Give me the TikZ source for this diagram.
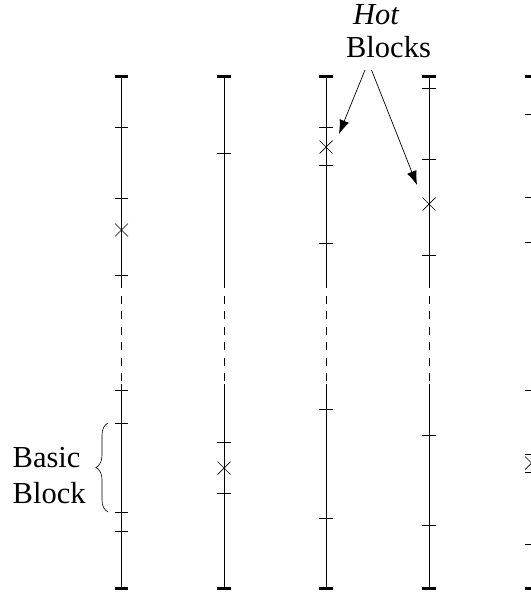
\documentclass[tikz,border=0pt]{standalone}
\usepackage{fontspec}
\setmainfont{Liberation Serif}
\usetikzlibrary{arrows.meta,decorations.pathreplacing}
\newcommand\mycolumn[3]{%
  \draw[bar] (#1,76) -- (#1,288);
  \draw[gapline] (#1,288) -- (#1,384);
  \draw[bar] (#1,384) -- (#1,589);
  \draw[capmark] (#1-6.75,76.5) -- (#1+6.75,76.5);
  \draw[capmark] (#1-6.75,588.5) -- (#1+6.75,588.5);
  \foreach \t in {#2} {\draw[tickmark] (#1-6.75,\t) -- (#1+6.75,\t);}
  \foreach \s in {#3} {\draw[xmark] (#1-6.5,\s-6.5) -- (#1+6.5,\s+6.5) (#1-6.5,\s+6.5) -- (#1+6.5,\s-6.5);}
}
\begin{document}
\begin{tikzpicture}[x=1pt,y=-1pt,
  bar/.style={line width=0.9pt},
  tickmark/.style={line width=0.8pt},
  capmark/.style={line width=2.4pt},
  xmark/.style={line width=0.7pt},
  gapline/.style={line width=0.9pt, dash pattern=on 8pt off 7.5pt, dash phase=8pt},
  lbl/.style={inner sep=0pt, font=\fontsize{30.5}{34}\selectfont},
  hotarrow/.style={line width=0.7pt, -{Latex[length=14pt,width=10pt]}},
  bracestyle/.style={line width=0.6pt, decorate, decoration={brace, amplitude=12pt}}]
\useasboundingbox (0,0) rectangle (530,594);
\mycolumn{121.5}{127,198,275,390,423,512,531}{230}
\mycolumn{224}{153,442,493}{468}
\mycolumn{326}{127,165,243,409,518}{147}
\mycolumn{429}{88,159,255,435,525}{204}
\mycolumn{531.5}{114,197,242,390,454,472,544}{463}
% labels
\node[lbl, anchor=base] (hot) at (376,25) {\itshape Hot};
\node[lbl, anchor=base] (blocks) at (388.5,57) {Blocks};
\node[lbl, anchor=base west] (basic) at (12.5,467) {Basic};
\node[lbl, anchor=base west] (block) at (12.5,503) {Block};
% arrows
\coordinate (a1s) at (365,70);
\coordinate (a1e) at (339,134);
\coordinate (a2s) at (371.5,70);
\coordinate (a2e) at (417,185);
\draw[hotarrow] (a1s) -- (a1e);
\draw[hotarrow] (a2s) -- (a2e);
% brace
\coordinate (bb) at (108,512);
\coordinate (bt) at (108,423);
\draw[bracestyle] (bb) -- (bt);
\end{tikzpicture}
\end{document}
